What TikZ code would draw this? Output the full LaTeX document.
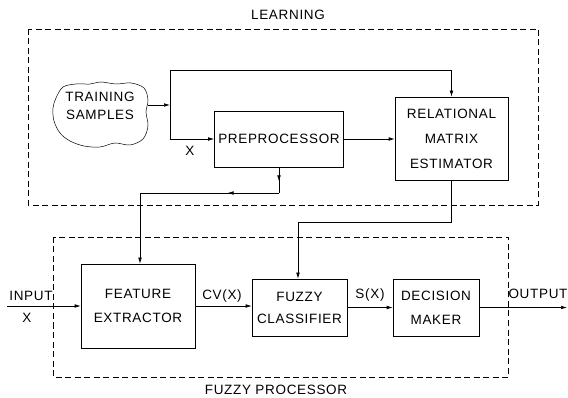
\documentclass[tikz,border=0pt]{standalone}
\usepackage{fontspec}
\setmainfont[LetterSpace=5]{Liberation Sans}
\usetikzlibrary{arrows.meta,decorations.markings}
\begin{document}
\begin{tikzpicture}[x=1pt,y=-1pt,
  line width=0.6pt,
  font=\fontsize{13.5}{16}\selectfont,
  tip/.tip={Latex[length=6pt,width=3.6pt]},
  blk/.style={draw, rectangle, inner sep=0pt, align=center},
  lbl/.style={inner sep=0pt, align=center},
  frame/.style={draw, dash pattern=on 6pt off 3.5pt, line width=0.5pt},
  arr/.style={-tip},
  midarrow/.style={decoration={markings, mark=at position #1 with {\arrow{tip}}}, postaction={decorate}},
  midarrow/.default=0.5
]
\useasboundingbox (0,0) rectangle (568,398);

% dashed frames
\draw[frame] (28,29) rectangle (538,205);
\node[lbl] (learnlbl) at (288,15) {LEARNING};
\draw[frame] (53,237) rectangle (508,377);
\node[lbl] (fuzlbl) at (276,390) {FUZZY PROCESSOR};

% cloud
\draw[line width=0.5pt] plot[smooth cycle, tension=0.55] coordinates {
 (56,98) (63,87) (76,84) (90,84) (101,82) (116,84) (131,83) (144,88) (148,100)
 (146,112) (148,126) (143,139) (130,145) (115,143) (100,147) (84,146) (70,141)
 (60,133) (54,121) (53,108)};
\node[lbl, font=\fontsize{13.5}{18}\selectfont] (ts) at (100,106) {TRAINING\\SAMPLES};
\coordinate (cl) at (148,105);
\coordinate (sp) at (170,105);

% blocks
\node[blk, minimum width=129pt, minimum height=56pt] (pre) at (279,139) {PREPROCESSOR};
\node[blk, minimum width=113pt, minimum height=83pt, font=\fontsize{13.5}{25}\selectfont] (rem) at (451.5,138.5) {RELATIONAL\\MATRIX\\ESTIMATOR};
\node[blk, minimum width=114pt, minimum height=84pt, font=\fontsize{13.5}{24}\selectfont] (fe) at (138,306) {FEATURE\\EXTRACTOR};
\node[blk, minimum width=95pt, minimum height=57pt, font=\fontsize{13.5}{22}\selectfont] (fc) at (299.5,307.5) {FUZZY\\CLASSIFIER};
\node[blk, minimum width=86pt, minimum height=57pt, font=\fontsize{13.5}{24}\selectfont] (dm) at (436,307.5) {DECISION\\MAKER};

% learning connections
\draw[arr] (cl) -- (sp);
\coordinate (top) at (170,70);
\draw[arr] (sp) -- (top) -| (rem.north);
\draw[arr] (sp) |- (pre.west);
\node[lbl] (xlbl) at (190,151) {X};
\draw[arr] (pre.east) -- (pre.east -| rem.west);

\coordinate (j1) at (279,193);
\coordinate (j2) at (140,193);
\draw[midarrow=0.55] (pre.south) -- (j1);
\draw[midarrow=0.37] (j1) -- (j2);
\draw[arr] (j2) -- (j2 |- fe.north);

\coordinate (k1) at (451.5,222);
\coordinate (k2) at (298,222);
\draw (rem.south) -- (k1) -- (k2);
\draw[arr] (k2) -- (k2 |- fc.north);

% processing chain
\coordinate (in) at (7,306);
\draw[arr] (in) -- (fe.west);
\node[lbl] (inlbl) at (31,296) {INPUT};
\node[lbl] (inx) at (27,318) {X};
\draw[arr] (fe.east) -- (fe.east -| fc.west);
\node[lbl] (cvlbl) at (222,296) {CV(X)};
\draw[arr] (fc.east) -- (dm.west);
\node[lbl] (sxlbl) at (370,295) {S(X)};
\coordinate (out) at (567,307.5);
\draw[arr] (dm.east) -- (out);
\node[lbl] (outlbl) at (538,294) {OUTPUT};
\end{tikzpicture}
\end{document}
